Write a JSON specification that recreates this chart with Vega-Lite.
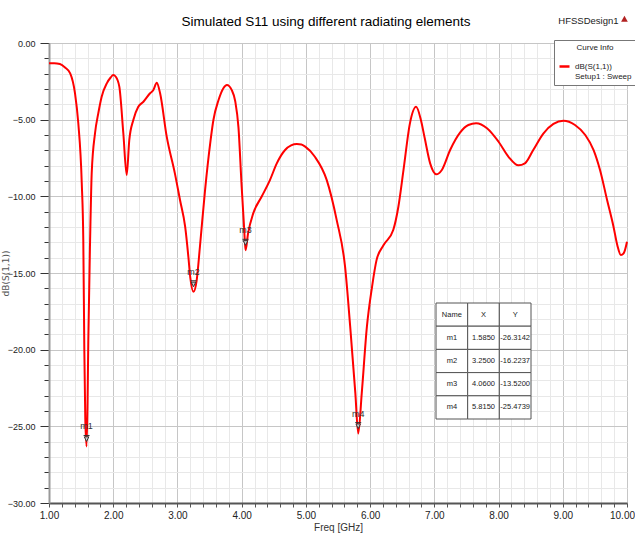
{
  "$schema": "https://vega.github.io/schema/vega-lite/v6.json",
  "width": 578,
  "height": 460,
  "autosize": {"type": "none"},
  "padding": {"left": 49, "top": 43, "right": 8, "bottom": 36},
  "background": "white",
  "config": {
    "view": {"stroke": null},
    "font": "Liberation Sans, Arial, sans-serif"
  },
  "title": {
    "text": "Simulated S11 using different radiating elements",
    "font": "Liberation Sans, Arial, sans-serif",
    "fontSize": 13.5,
    "fontWeight": "normal",
    "color": "#000",
    "anchor": "middle",
    "offset": 15,
    "dy": 28,
    "dx": -12
  },
  "datasets": {
    "curve": [
      {"f": 1.00, "db": -1.32}, {"f": 1.08, "db": -1.32}, {"f": 1.17, "db": -1.37}, {"f": 1.25, "db": -1.6},
      {"f": 1.33, "db": -1.98}, {"f": 1.405, "db": -3.28}, {"f": 1.456, "db": -5.22}, {"f": 1.51, "db": -9.13},
      {"f": 1.534, "db": -12.85}, {"f": 1.55, "db": -20.0}, {"f": 1.565, "db": -24.5}, {"f": 1.585, "db": -26.31},
      {"f": 1.60, "db": -23.5}, {"f": 1.612, "db": -19.4}, {"f": 1.64, "db": -12.85}, {"f": 1.665, "db": -8.48},
      {"f": 1.717, "db": -5.87}, {"f": 1.768, "db": -4.57}, {"f": 1.82, "db": -3.5}, {"f": 1.90, "db": -2.63},
      {"f": 1.96, "db": -2.25}, {"f": 2.00, "db": -2.09}, {"f": 2.04, "db": -2.2}, {"f": 2.095, "db": -2.85},
      {"f": 2.157, "db": -5.87}, {"f": 2.21, "db": -8.61}, {"f": 2.25, "db": -6.33}, {"f": 2.313, "db": -5.02},
      {"f": 2.39, "db": -4.16}, {"f": 2.47, "db": -3.83}, {"f": 2.573, "db": -3.28}, {"f": 2.625, "db": -3.07},
      {"f": 2.678, "db": -2.59}, {"f": 2.73, "db": -3.28}, {"f": 2.833, "db": -6.11}, {"f": 2.96, "db": -8.5},
      {"f": 3.04, "db": -10.24}, {"f": 3.12, "db": -11.98}, {"f": 3.17, "db": -13.94}, {"f": 3.20, "db": -15.3},
      {"f": 3.25, "db": -16.22}, {"f": 3.30, "db": -15.46}, {"f": 3.35, "db": -13.29}, {"f": 3.43, "db": -9.59},
      {"f": 3.51, "db": -6.54}, {"f": 3.56, "db": -5.02}, {"f": 3.64, "db": -3.72}, {"f": 3.715, "db": -2.95},
      {"f": 3.77, "db": -2.74}, {"f": 3.846, "db": -3.07}, {"f": 3.90, "db": -3.8}, {"f": 3.95, "db": -5.5},
      {"f": 4.00, "db": -9.37}, {"f": 4.037, "db": -11.98}, {"f": 4.06, "db": -13.52}, {"f": 4.10, "db": -12.41},
      {"f": 4.18, "db": -11.11}, {"f": 4.31, "db": -10.03}, {"f": 4.44, "db": -8.94}, {"f": 4.547, "db": -7.85},
      {"f": 4.676, "db": -6.98}, {"f": 4.77, "db": -6.68}, {"f": 4.86, "db": -6.59}, {"f": 4.93, "db": -6.62},
      {"f": 4.99, "db": -6.76}, {"f": 5.14, "db": -7.42}, {"f": 5.325, "db": -8.94}, {"f": 5.48, "db": -11.55},
      {"f": 5.61, "db": -14.59}, {"f": 5.69, "db": -18.5}, {"f": 5.77, "db": -22.83}, {"f": 5.815, "db": -25.47},
      {"f": 5.87, "db": -22.83}, {"f": 5.95, "db": -18.5}, {"f": 6.03, "db": -15.9}, {"f": 6.10, "db": -14.16},
      {"f": 6.21, "db": -13.18}, {"f": 6.36, "db": -12.2}, {"f": 6.44, "db": -10.68}, {"f": 6.52, "db": -8.28},
      {"f": 6.62, "db": -5.24}, {"f": 6.716, "db": -4.16}, {"f": 6.79, "db": -5.0}, {"f": 6.85, "db": -6.2},
      {"f": 6.935, "db": -7.85}, {"f": 7.03, "db": -8.56}, {"f": 7.117, "db": -8.28}, {"f": 7.246, "db": -6.98},
      {"f": 7.40, "db": -5.85}, {"f": 7.53, "db": -5.35}, {"f": 7.65, "db": -5.24}, {"f": 7.82, "db": -5.56},
      {"f": 8.00, "db": -6.44}, {"f": 8.155, "db": -7.42}, {"f": 8.31, "db": -7.98}, {"f": 8.41, "db": -7.85},
      {"f": 8.54, "db": -6.98}, {"f": 8.70, "db": -5.89}, {"f": 8.855, "db": -5.28}, {"f": 9.01, "db": -5.07},
      {"f": 9.19, "db": -5.35}, {"f": 9.35, "db": -6.0}, {"f": 9.48, "db": -6.98}, {"f": 9.58, "db": -8.28},
      {"f": 9.69, "db": -10.24}, {"f": 9.79, "db": -11.98}, {"f": 9.85, "db": -13.2}, {"f": 9.905, "db": -13.83},
      {"f": 9.95, "db": -13.7}, {"f": 10.00, "db": -12.96}
    ],
    "markers": [
      {"name": "m1", "f": 1.585, "db": -26.3142},
      {"name": "m2", "f": 3.25, "db": -16.2237},
      {"name": "m3", "f": 4.06, "db": -13.52},
      {"name": "m4", "f": 5.815, "db": -25.4739}
    ],
    "table": [
      {"row": "Name", "col": "Name", "v": "Name"}, {"row": "Name", "col": "X", "v": "X"}, {"row": "Name", "col": "Y", "v": "Y"},
      {"row": "m1", "col": "Name", "v": "m1"}, {"row": "m1", "col": "X", "v": "1.5850"}, {"row": "m1", "col": "Y", "v": "-26.3142"},
      {"row": "m2", "col": "Name", "v": "m2"}, {"row": "m2", "col": "X", "v": "3.2500"}, {"row": "m2", "col": "Y", "v": "-16.2237"},
      {"row": "m3", "col": "Name", "v": "m3"}, {"row": "m3", "col": "X", "v": "4.0600"}, {"row": "m3", "col": "Y", "v": "-13.5200"},
      {"row": "m4", "col": "Name", "v": "m4"}, {"row": "m4", "col": "X", "v": "5.8150"}, {"row": "m4", "col": "Y", "v": "-25.4739"}
    ],
    "design": [
      {"label": "HFSSDesign1", "f": 9.4, "db": 1.45}
    ]
  },
  "resolve": {"scale": {"x": "independent", "y": "independent"}},
  "layer": [
    {
      "encoding": {
        "x": {
          "field": "f", "type": "quantitative",
          "scale": {"domain": [1, 10], "nice": false, "zero": false},
          "axis": {
            "values": [1,1.2,1.4,1.6,1.8,2,2.2,2.4,2.6,2.8,3,3.2,3.4,3.6,3.8,4,4.2,4.4,4.6,4.8,5,5.2,5.4,5.6,5.8,6,6.2,6.4,6.6,6.8,7,7.2,7.4,7.6,7.8,8,8.2,8.4,8.6,8.8,9,9.2,9.4,9.6,9.8,10],
            "labelExpr": "abs(datum.value - round(datum.value)) < 0.001 ? format(datum.value, '.2f') : ''",
            "labelOverlap": false,
            "labelFlush": false,
            "labelOffset": {"condition": {"test": "datum.value >= 9.99", "value": -5}, "value": 0},
            "labelFont": "Liberation Sans, Arial, sans-serif",
            "labelFontSize": 10,
            "labelColor": "#222",
            "labelPadding": 3,
            "grid": true,
            "gridColor": {"condition": {"test": "abs(datum.value - round(datum.value)) < 0.001", "value": "#c6c6c6"}, "value": "#e8e8e8"},
            "gridWidth": 1,
            "domainColor": "#555",
            "domainWidth": 2,
            "tickColor": "#555",
            "tickSize": 4,
            "title": "Freq [GHz]",
            "titleFont": "Liberation Sans, Arial, sans-serif",
            "titleFontSize": 10,
            "titleFontWeight": "normal",
            "titleColor": "#333",
            "titlePadding": 2
          }
        },
        "y": {
          "field": "db", "type": "quantitative",
          "scale": {"domain": [-30, 0], "nice": false, "zero": false},
          "axis": {
            "values": [0,-1,-2,-3,-4,-5,-6,-7,-8,-9,-10,-11,-12,-13,-14,-15,-16,-17,-18,-19,-20,-21,-22,-23,-24,-25,-26,-27,-28,-29,-30],
            "labelExpr": "datum.value % 5 === 0 ? format(datum.value, '.2f') : ''",
            "labelOverlap": false,
            "labelFlush": false,
            "labelFont": "Liberation Sans, Arial, sans-serif",
            "labelFontSize": 9,
            "labelColor": "#222",
            "labelPadding": 5,
            "grid": true,
            "gridColor": {"condition": {"test": "datum.value % 5 === 0", "value": "#c6c6c6"}, "value": "#e8e8e8"},
            "gridWidth": 1,
            "domainColor": "#999",
            "domainWidth": 2,
            "tickColor": "#333",
            "tickSize": {"condition": {"test": "datum.value % 5 === 0", "value": 9}, "value": 5},
            "title": "dB(S(1,1))",
            "titleFont": "DejaVu Sans",
            "titleFontSize": 9,
            "titleFontWeight": "normal",
            "titleColor": "#555",
            "titleX": -44,
            "titleBaseline": "middle"
          }
        }
      },
      "layer": [
        {
          "mark": {"type": "rule", "color": "#000", "strokeWidth": 2},
          "encoding": {"y": {"datum": 0}}
        },
        {
          "mark": {"type": "rule", "color": "#999", "strokeWidth": 2},
          "encoding": {"x": {"datum": 10}}
        },
        {
          "data": {"name": "curve"},
          "mark": {"type": "line", "strokeWidth": 2, "interpolate": "monotone"},
          "encoding": {
            "color": {
              "datum": "dB(S(1,1))",
              "type": "nominal",
              "scale": {"range": ["#ff0000"]},
              "legend": {
                "orient": "none",
                "legendX": 505,
                "legendY": -3,
                "title": "Curve Info",
                "titleFont": "Liberation Sans, Arial, sans-serif",
                "titleFontSize": 8,
                "titleFontWeight": "normal",
                "titleColor": "#222",
                "titleAnchor": "middle",
                "titlePadding": 8,
                "strokeColor": "#777",
                "fillColor": "white",
                "padding": 4,
                "symbolType": "stroke",
                "symbolStrokeWidth": 2.5,
                "symbolSize": 100,
                "symbolOffset": 0,
                "labelOffset": 4,
                "labelFont": "Liberation Sans, Arial, sans-serif",
                "labelFontSize": 8,
                "labelColor": "#222",
                "labelExpr": "['dB(S(1,1))', 'Setup1 : Sweep']"
              }
            }
          }
        },
        {
          "data": {"name": "markers"},
          "mark": {
            "type": "point",
            "shape": "M-1,-1L1,-1M-0.75,-0.55L0.75,-0.55L0,1Z",
            "filled": true,
            "fill": "#cfcfcf",
            "stroke": "#333",
            "strokeWidth": 1,
            "size": 36,
            "yOffset": -8,
            "opacity": 1
          }
        },
        {
          "data": {"name": "markers"},
          "mark": {"type": "text", "dy": -20, "fontSize": 9, "color": "#333", "font": "Liberation Sans, Arial, sans-serif"},
          "encoding": {"text": {"field": "name"}}
        },
        {
          "data": {"name": "design"},
          "mark": {"type": "text", "fontSize": 9.5, "color": "#222", "font": "Liberation Sans, Arial, sans-serif"},
          "encoding": {"text": {"field": "label"}}
        },
        {
          "data": {"name": "design"},
          "mark": {"type": "point", "shape": "triangle-up", "filled": true, "color": "#b22222", "size": 45, "opacity": 1, "xOffset": 36, "yOffset": -2}
        }
      ]
    },
    {
      "data": {"name": "table"},
      "encoding": {
        "x": {
          "field": "col", "type": "nominal",
          "scale": {"domain": ["Name", "X", "Y"], "range": [387, 482], "paddingInner": 0, "paddingOuter": 0},
          "axis": null
        },
        "y": {
          "field": "row", "type": "nominal",
          "scale": {"domain": ["Name", "m1", "m2", "m3", "m4"], "range": [260, 376], "paddingInner": 0, "paddingOuter": 0},
          "axis": null
        }
      },
      "layer": [
        {"mark": {"type": "rect", "fill": "white", "stroke": "#555", "strokeWidth": 1}},
        {
          "mark": {"type": "text", "fontSize": 7.5, "color": "#222", "font": "Liberation Sans, Arial, sans-serif"},
          "encoding": {"text": {"field": "v"}}
        }
      ]
    }
  ]
}
